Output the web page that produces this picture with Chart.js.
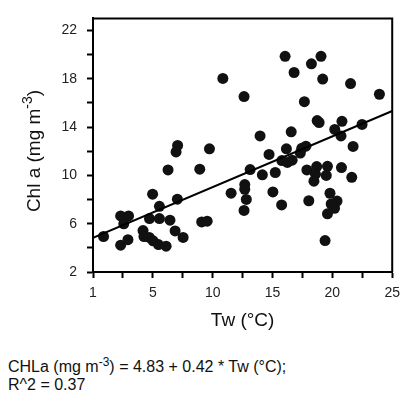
<!DOCTYPE html>
<html>
<head>
<meta charset="utf-8">
<script src="https://cdn.jsdelivr.net/npm/chart.js@4"></script>
<style>
    html, body { margin: 0; padding: 0; background: #fff; }
    #wrap { position: relative; width: 407px; height: 394px; }
    #c { position: absolute; left: 0; top: 0; }
    #eq {
        position: absolute; left: 8px; top: 358px;
        font: 16px "Liberation Sans", Arial, sans-serif;
        color: #111; line-height: 18px;
    }
    #eq sup { font-size: 12px; line-height: 0; }
</style>
</head>
<body>
<div id="wrap">
    <canvas id="c" width="407" height="340"></canvas>
    <div id="eq">CHLa (mg m<sup>-3</sup>) = 4.83 + 0.42 * Tw (°C);<br>R^2 = 0.37</div>
</div>
<script>
// water temperature (°C)
const TW = [
    0.88, 2.31, 2.97, 2.57, 2.31, 2.92, 4.18, 4.26, 4.70, 5.02,
    5.47, 6.11, 4.72, 5.55, 5.55, 4.98, 6.43, 6.86, 7.53, 7.05,
    6.27, 6.94, 7.07, 8.92, 9.73, 9.08, 9.54, 10.85, 12.62, 11.54,
    12.68, 12.68, 12.81, 12.62, 13.96, 13.13, 14.15, 14.71, 15.23, 15.03,
    15.76, 16.05, 16.80, 17.66, 18.25, 19.05, 19.19, 21.52, 23.93, 18.73,
    18.89, 20.80, 22.48, 20.20, 20.72, 16.56, 21.73, 17.44, 17.79, 16.16,
    15.78, 16.24, 16.64, 17.32, 17.87, 18.69, 18.59, 19.59, 19.49, 20.76,
    21.62, 18.46, 18.03, 19.80, 20.39, 19.90, 20.18, 19.59, 19.39,
];
// chlorophyll a (mg m-3)
const CHLA = [
    4.94, 6.64, 6.64, 5.99, 4.22, 4.68, 5.43, 4.94, 4.86, 4.58,
    4.27, 4.14, 6.42, 6.42, 7.44, 8.44, 6.29, 5.40, 4.86, 8.03,
    10.45, 11.94, 12.48, 10.51, 12.20, 6.15, 6.21, 18.03, 16.53, 8.53,
    9.24, 8.85, 8.01, 7.10, 13.27, 10.48, 10.05, 11.74, 10.24, 8.63,
    7.55, 19.86, 18.52, 16.10, 19.24, 19.86, 17.98, 17.60, 16.72, 14.54,
    14.38, 14.48, 14.22, 13.81, 13.27, 13.61, 12.40, 12.24, 12.42, 12.20,
    11.23, 11.07, 11.26, 11.85, 10.45, 10.73, 10.10, 10.75, 10.00, 10.65,
    9.84, 9.52, 7.90, 8.52, 7.87, 7.63, 7.28, 6.82, 4.60,
];

const FIT = { intercept: 4.83, slope: 0.42 };
const X_RANGE = [0, 25];
const Y_RANGE = [2, 23];

// tick marks and the labels printed on them
const X_TICKS = [0, 2.5, 5, 7.5, 10, 12.5, 15, 17.5, 20, 22.5, 25];
const X_TICK_LABELS = { 0: '1', 5: '5', 10: '10', 15: '15', 20: '20', 25: '25' };
const Y_TICKS = [2, 4, 6, 8, 10, 12, 14, 16, 18, 20, 22];
const Y_TICK_LABELS = [2, 6, 10, 14, 18, 22];

const FONT = '"Liberation Sans", Arial, sans-serif';

const points = TW.map((x, i) => ({ x, y: CHLA[i] }));
const fitLine = X_RANGE.map(x => ({ x, y: FIT.intercept + FIT.slope * x }));

// top/right frame lines and the y title with its superscript
const frame = {
    id: 'frame',
    afterDraw(chart) {
        const { ctx, chartArea: a } = chart;
        ctx.save();
        ctx.strokeStyle = '#000';
        ctx.lineWidth = 2;
        ctx.beginPath();
        ctx.moveTo(a.left, a.top);
        ctx.lineTo(a.right, a.top);
        ctx.lineTo(a.right, a.bottom);
        ctx.stroke();

        const main = 'Chl a (mg m', sup = '-3', tail = ')';
        ctx.fillStyle = '#111';
        ctx.textBaseline = 'alphabetic';
        ctx.font = `19px ${FONT}`;
        const wMain = ctx.measureText(main).width;
        const wTail = ctx.measureText(tail).width;
        ctx.font = `14px ${FONT}`;
        const wSup = ctx.measureText(sup).width;
        const total = wMain + wSup + wTail;

        ctx.translate(40, 151);
        ctx.rotate(-Math.PI / 2);
        let x = -total / 2;
        ctx.font = `19px ${FONT}`;
        ctx.fillText(main, x, 0);
        x += wMain;
        ctx.font = `14px ${FONT}`;
        ctx.fillText(sup, x, -8);
        x += wSup;
        ctx.font = `19px ${FONT}`;
        ctx.fillText(tail, x, 0);
        ctx.restore();
    },
};

const tickMarks = values => s => { s.ticks = values.map(value => ({ value })); };

new Chart(document.getElementById('c'), {
    data: {
        datasets: [
            {
                type: 'line',
                data: fitLine,
                borderColor: '#000',
                borderWidth: 2,
                pointRadius: 0,
                fill: false,
            },
            {
                type: 'scatter',
                data: points,
                backgroundColor: '#111',
                borderWidth: 0,
                pointRadius: 5.5,
                pointHoverRadius: 5.5,
            },
        ],
    },
    options: {
        responsive: false,
        animation: false,
        layout: { padding: { top: 11, right: 2, left: 0, bottom: 0 } },
        plugins: { legend: { display: false }, tooltip: { enabled: false } },
        scales: {
            x: {
                type: 'linear',
                min: X_RANGE[0],
                max: X_RANGE[1],
                afterBuildTicks: tickMarks(X_TICKS),
                afterFit: s => { s.height = 68; },
                border: { display: true, color: '#000', width: 2 },
                grid: { drawOnChartArea: false, drawTicks: true, tickLength: 6, tickColor: '#000', tickWidth: 2 },
                ticks: {
                    autoSkip: false,
                    maxRotation: 0,
                    padding: 7,
                    color: '#222',
                    font: { family: FONT, size: 14 },
                    callback: v => X_TICK_LABELS[v] ?? '',
                },
                title: {
                    display: true,
                    text: 'Tw (°C)',
                    color: '#111',
                    font: { family: FONT, size: 19 },
                    padding: { top: 0, bottom: 8 },
                },
            },
            y: {
                type: 'linear',
                min: Y_RANGE[0],
                max: Y_RANGE[1],
                afterBuildTicks: tickMarks(Y_TICKS),
                afterFit: s => { s.width = 93; },
                border: { display: true, color: '#000', width: 2 },
                grid: { drawOnChartArea: false, drawTicks: true, tickLength: 6, tickColor: '#000', tickWidth: 2 },
                ticks: {
                    autoSkip: false,
                    padding: 10,
                    color: '#222',
                    font: { family: FONT, size: 14 },
                    callback: v => Y_TICK_LABELS.includes(v) ? String(v) : '',
                },
            },
        },
    },
    plugins: [frame],
});
</script>
</body>
</html>
